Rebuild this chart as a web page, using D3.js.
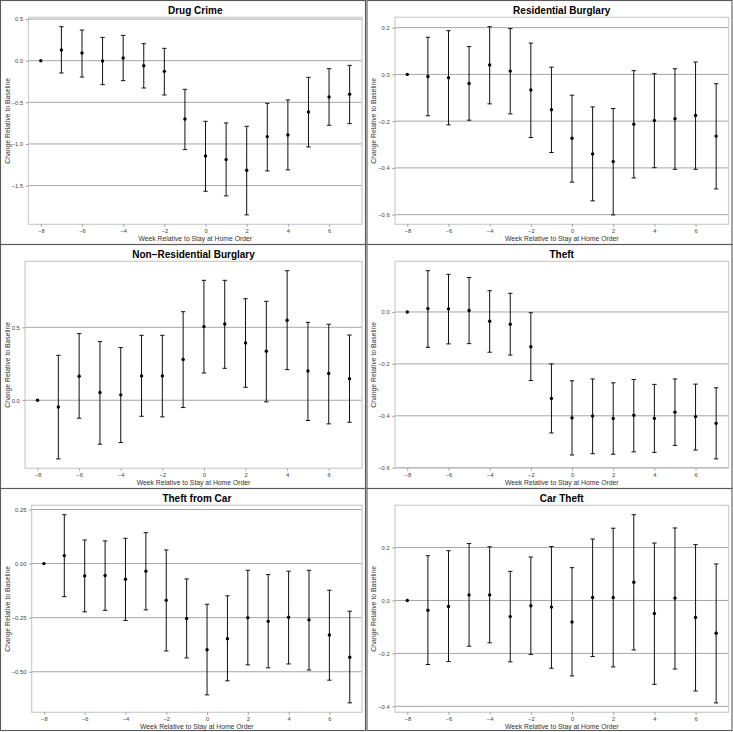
<!DOCTYPE html>
<html>
<head>
<meta charset="utf-8">
<script src="https://cdn.jsdelivr.net/npm/d3@7"></script>
<style>
  body { margin: 0; background: #fff; }
  svg { display: block; font-family: "Liberation Sans", Arial, sans-serif; }
</style>
</head>
<body>
<div id="chart"></div>
<script>
// weeks relative to the stay at home order (week -8 is the baseline)
var weeks = [-8, -7, -6, -5, -4, -3, -2, -1, 0, 1, 2, 3, 4, 5, 6, 7];
var xTicks = [-8, -6, -4, -2, 0, 2, 4, 6];

var titles = ["Drug Crime", "Residential Burglary", "Non\u2212Residential Burglary",
              "Theft", "Theft from Car", "Car Theft"];

// estimates and confidence bounds
var drugEst = [0, 0.128, 0.092, -0.004, 0.032, -0.06, -0.128, -0.70, -1.144, -1.188, -1.316, -0.912, -0.892, -0.616, -0.436, -0.404];
var drugLo  = [null, -0.148, -0.196, -0.288, -0.24, -0.328, -0.412, -1.068, -1.568, -1.624, -1.852, -1.324, -1.312, -1.036, -0.776, -0.756];
var drugHi  = [null, 0.408, 0.368, 0.28, 0.304, 0.204, 0.148, -0.344, -0.728, -0.748, -0.788, -0.512, -0.472, -0.20, -0.096, -0.056];

var resEst = [0, -0.009, -0.014, -0.039, 0.04, 0.014, -0.067, -0.151, -0.273, -0.34, -0.373, -0.213, -0.197, -0.19, -0.176, -0.264];
var resLo  = [null, -0.177, -0.216, -0.196, -0.126, -0.169, -0.27, -0.334, -0.461, -0.541, -0.601, -0.443, -0.399, -0.406, -0.406, -0.49];
var resHi  = [null, 0.159, 0.187, 0.119, 0.204, 0.196, 0.134, 0.031, -0.089, -0.139, -0.146, 0.016, 0.003, 0.024, 0.053, -0.04];

var nonResEst = [0, -0.046, 0.164, 0.053, 0.037, 0.167, 0.167, 0.279, 0.505, 0.523, 0.393, 0.336, 0.548, 0.201, 0.183, 0.148];
var nonResLo  = [null, -0.402, -0.123, -0.301, -0.29, -0.11, -0.114, -0.05, 0.187, 0.219, 0.089, -0.011, 0.21, -0.139, -0.162, -0.151];
var nonResHi  = [null, 0.308, 0.457, 0.402, 0.361, 0.445, 0.445, 0.607, 0.822, 0.822, 0.696, 0.678, 0.888, 0.534, 0.521, 0.447];

var theftEst = [0, 0.013, 0.012, 0.006, -0.036, -0.047, -0.134, -0.333, -0.408, -0.401, -0.41, -0.398, -0.41, -0.386, -0.403, -0.429];
var theftLo  = [null, -0.136, -0.123, -0.122, -0.155, -0.166, -0.264, -0.466, -0.551, -0.546, -0.548, -0.539, -0.541, -0.514, -0.532, -0.566];
var theftHi  = [null, 0.159, 0.145, 0.133, 0.082, 0.072, -0.003, -0.2, -0.265, -0.258, -0.273, -0.26, -0.279, -0.258, -0.278, -0.292];

var fromCarEst = [0, 0.037, -0.057, -0.055, -0.072, -0.035, -0.169, -0.254, -0.398, -0.347, -0.25, -0.267, -0.248, -0.26, -0.33, -0.433];
var fromCarLo  = [null, -0.153, -0.223, -0.216, -0.263, -0.214, -0.404, -0.436, -0.607, -0.542, -0.468, -0.482, -0.464, -0.492, -0.539, -0.644];
var fromCarHi  = [null, 0.226, 0.109, 0.105, 0.117, 0.143, 0.063, -0.071, -0.188, -0.149, -0.031, -0.051, -0.035, -0.031, -0.123, -0.22];

var carEst = [0, -0.037, -0.023, 0.021, 0.021, -0.061, -0.02, -0.025, -0.081, 0.011, 0.011, 0.069, -0.049, 0.009, -0.064, -0.124];
var carLo  = [null, -0.242, -0.231, -0.173, -0.16, -0.232, -0.204, -0.256, -0.285, -0.212, -0.251, -0.187, -0.317, -0.259, -0.342, -0.387];
var carHi  = [null, 0.169, 0.188, 0.215, 0.203, 0.11, 0.164, 0.204, 0.124, 0.232, 0.273, 0.324, 0.217, 0.274, 0.211, 0.138];

var yTicks = [[0.5, 0, -0.5, -1, -1.5], [0.2, 0, -0.2, -0.4, -0.6], [0.5, 0],
              [0, -0.2, -0.4, -0.6], [0.25, 0, -0.25, -0.5], [0.2, 0, -0.2, -0.4]];
var yFormats = [".1f", ".1f", ".1f", ".1f", ".2f", ".1f"];

var panels = [
  {est: drugEst, lo: drugLo, hi: drugHi},
  {est: resEst, lo: resLo, hi: resHi},
  {est: nonResEst, lo: nonResLo, hi: nonResHi},
  {est: theftEst, lo: theftLo, hi: theftHi},
  {est: fromCarEst, lo: fromCarLo, hi: fromCarHi},
  {est: carEst, lo: carLo, hi: carHi}
];

var svg = d3.select("#chart").append("svg")
  .attr("width", 733)
  .attr("height", 732);

// panel grid
var colX = [0, 366.5],
    rowY = [0, 244, 488],
    rowH = [244, 244, 242];

var plotTop = 17.3, plotBottom = 224.3, plotRight = 362;
var tickFont = 5.8, labelFont = 6.8;

panels.forEach(function(p, i) {
  var col = i % 2, row = Math.floor(i / 2);
  var g = svg.append("g")
    .attr("transform", "translate(" + colX[col] + "," + rowY[row] + ")");

  // outer frame of each panel
  g.append("rect")
    .attr("x", 0.5).attr("y", 0.5)
    .attr("width", 365).attr("height", rowH[row])
    .style("fill", "none")
    .style("stroke", "#5a5a5a")
    .style("stroke-width", 1.1);

  var fmt = d3.format(yFormats[i]);

  // the y tick labels decide where the plot box starts
  var probe = g.append("g").style("font-size", tickFont + "px");
  var maxW = 0;
  yTicks[i].forEach(function(t) {
    var tx = probe.append("text").text(fmt(t));
    maxW = Math.max(maxW, tx.node().getComputedTextLength());
  });
  probe.remove();
  var plotLeft = 17 + maxW;

  // y range: data extent plus 5% on each side
  var yMin = d3.min(p.lo.concat(p.est)), yMax = d3.max(p.hi.concat(p.est));
  var pad = (yMax - yMin) * 0.05;

  var x = d3.scaleLinear()
    .domain([weeks[0] - 0.6, weeks[weeks.length - 1] + 0.6])
    .range([plotLeft, plotRight]);

  var y = d3.scaleLinear()
    .domain([yMin - pad, yMax + pad])
    .range([plotBottom, plotTop]);

  // gridlines
  g.selectAll(".grid")
    .data(yTicks[i])
    .enter()
    .append("line")
    .attr("x1", plotLeft).attr("x2", plotRight)
    .attr("y1", function(d) { return y(d); })
    .attr("y2", function(d) { return y(d); })
    .style("stroke", "#a6a6a6")
    .style("stroke-width", 1);

  // plot box
  g.append("rect")
    .attr("x", plotLeft).attr("y", plotTop)
    .attr("width", plotRight - plotLeft).attr("height", plotBottom - plotTop)
    .style("fill", "none")
    .style("stroke", "#cccccc")
    .style("stroke-width", 1.2);

  // y axis
  var yAxis = g.append("g")
    .attr("transform", "translate(" + plotLeft + ",0)")
    .call(d3.axisLeft(y).tickValues(yTicks[i]).tickFormat(fmt).tickSize(2.7).tickPadding(2.6));
  yAxis.select(".domain").remove();

  // x axis
  var xAxis = g.append("g")
    .attr("transform", "translate(0," + plotBottom + ")")
    .call(d3.axisBottom(x).tickValues(xTicks).tickFormat(d3.format("d")).tickSize(2.4).tickPadding(2.2));
  xAxis.select(".domain").remove();

  g.selectAll(".tick line").style("stroke", "#888").style("stroke-width", 0.8);
  g.selectAll(".tick text")
    .style("font-size", tickFont + "px")
    .style("font-family", "'Liberation Sans', Arial, sans-serif")
    .style("fill", "#444");

  // error bars
  var rows = weeks.map(function(w, j) {
    return {week: w, est: p.est[j], lo: p.lo[j], hi: p.hi[j]};
  });
  var bars = rows.filter(function(d) { return d.lo !== null; });

  g.selectAll(".bar")
    .data(bars)
    .enter()
    .append("line")
    .attr("x1", function(d) { return x(d.week); })
    .attr("x2", function(d) { return x(d.week); })
    .attr("y1", function(d) { return y(d.lo); })
    .attr("y2", function(d) { return y(d.hi); })
    .style("stroke", "#111")
    .style("stroke-width", 1);

  ["lo", "hi"].forEach(function(k) {
    g.selectAll(".cap-" + k)
      .data(bars)
      .enter()
      .append("line")
      .attr("x1", function(d) { return x(d.week) - 2.2; })
      .attr("x2", function(d) { return x(d.week) + 2.2; })
      .attr("y1", function(d) { return y(d[k]); })
      .attr("y2", function(d) { return y(d[k]); })
      .style("stroke", "#111")
      .style("stroke-width", 1);
  });

  // point estimates
  g.selectAll(".pt")
    .data(rows)
    .enter()
    .append("circle")
    .attr("cx", function(d) { return x(d.week); })
    .attr("cy", function(d) { return y(d.est); })
    .attr("r", 1.7)
    .style("fill", "#000");

  var midX = (plotLeft + plotRight) / 2;

  // title
  g.append("text")
    .attr("x", midX).attr("y", 14.2)
    .attr("text-anchor", "middle")
    .style("font-size", "10px")
    .style("font-weight", "bold")
    .style("fill", "#000")
    .text(titles[i]);

  // axis titles
  g.append("text")
    .attr("x", midX).attr("y", 241.4)
    .attr("text-anchor", "middle")
    .style("font-size", labelFont + "px")
    .style("fill", "#333")
    .text("Week Relative to Stay at Home Order");

  g.append("text")
    .attr("transform", "translate(7.5," + ((plotTop + plotBottom) / 2) + ") rotate(-90)")
    .attr("dy", "0.35em")
    .attr("text-anchor", "middle")
    .style("font-size", labelFont + "px")
    .style("fill", "#333")
    .text("Change Relative to Baseline");
});
</script>
</body>
</html>
